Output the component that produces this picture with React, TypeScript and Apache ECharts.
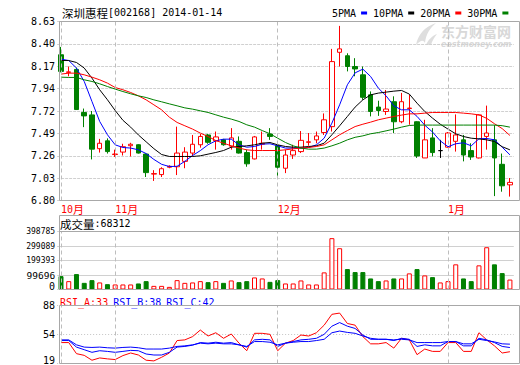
import React, { useEffect, useRef } from 'react';
import * as echarts from 'echarts';

const categories = [
  '2013-10-23','2013-10-24','2013-10-25','2013-10-28','2013-10-29','2013-10-30','2013-10-31',
  '2013-11-01','2013-11-04','2013-11-05','2013-11-06','2013-11-07','2013-11-08','2013-11-11','2013-11-12','2013-11-13','2013-11-14','2013-11-15','2013-11-18','2013-11-19','2013-11-20','2013-11-21','2013-11-22','2013-11-25','2013-11-26','2013-11-27','2013-11-28','2013-11-29',
  '2013-12-02','2013-12-03','2013-12-04','2013-12-05','2013-12-06','2013-12-09','2013-12-10','2013-12-11','2013-12-12','2013-12-13','2013-12-16','2013-12-17','2013-12-18','2013-12-19','2013-12-20','2013-12-23','2013-12-24','2013-12-25','2013-12-26','2013-12-27','2013-12-30','2013-12-31',
  '2014-01-02','2014-01-03','2014-01-06','2014-01-07','2014-01-08','2014-01-09','2014-01-10','2014-01-13','2014-01-14'
];

// [open, close, low, high]
const candles = [
  [8.29, 8.12, 8.11, 8.37], [8.11, 8.115, 8.07, 8.17], [8.14, 7.73, 7.73, 8.16], [7.70, 7.665, 7.55, 7.74],
  [7.675, 7.325, 7.22, 7.715], [7.33, 7.385, 7.29, 7.43], [7.41, 7.30, 7.28, 7.435], [7.27, 7.275, 7.245, 7.32],
  [7.295, 7.35, 7.26, 7.38], [7.36, 7.375, 7.25, 7.39], [7.37, 7.285, 7.28, 7.375], [7.275, 7.085, 7.04, 7.28],
  [7.07, 7.075, 7.00, 7.11], [7.065, 7.125, 7.04, 7.14], [7.14, 7.15, 7.13, 7.16], [7.145, 7.285, 7.06, 7.555],
  [7.20, 7.295, 7.13, 7.345], [7.285, 7.375, 7.25, 7.47], [7.37, 7.455, 7.34, 7.48], [7.47, 7.395, 7.38, 7.48],
  [7.41, 7.45, 7.32, 7.505], [7.42, 7.37, 7.36, 7.43], [7.355, 7.44, 7.32, 7.54], [7.405, 7.285, 7.28, 7.455],
  [7.29, 7.175, 7.145, 7.32], [7.225, 7.45, 7.22, 7.46], [7.375, 7.385, 7.32, 7.505], [7.48, 7.455, 7.42, 7.54],
  [7.36, 7.14, 7.045, 7.37], [7.13, 7.265, 7.08, 7.32], [7.265, 7.31, 7.225, 7.37], [7.30, 7.415, 7.285, 7.51],
  [7.395, 7.40, 7.36, 7.49], [7.42, 7.46, 7.385, 7.505], [7.495, 7.625, 7.47, 7.69], [7.555, 8.22, 7.505, 8.35],
  [8.315, 8.35, 8.17, 8.585], [8.28, 8.17, 8.12, 8.305], [8.17, 8.145, 8.07, 8.255], [8.085, 7.855, 7.83, 8.17],
  [7.88, 7.71, 7.66, 7.915], [7.755, 7.72, 7.665, 7.82], [7.71, 7.735, 7.675, 7.93], [7.81, 7.605, 7.49, 7.865],
  [7.605, 7.81, 7.59, 7.90], [7.74, 7.745, 7.575, 7.88], [7.605, 7.255, 7.235, 7.61], [7.235, 7.42, 7.235, 7.625],
  [7.44, 7.29, 7.25, 7.54], [7.31, 7.31, 7.235, 7.42], [7.345, 7.49, 7.34, 7.50], [7.405, 7.47, 7.30, 7.68],
  [7.42, 7.265, 7.20, 7.47], [7.31, 7.245, 7.215, 7.385], [7.235, 7.675, 7.23, 7.68], [7.455, 7.49, 7.32, 7.77],
  [7.42, 7.235, 6.845, 7.57], [7.17, 6.95, 6.89, 7.28], [6.96, 6.985, 6.84, 7.03]
];

const volumes = [
  92000, 57500, 106000, 45700, 64400, 48500, 36700, 34600, 34600, 34600,
  41500, 57500, 25000, 25000, 18000, 64400, 45700, 48500, 57500, 50500,
  57500, 45700, 62300, 50500, 57500, 83000, 76000, 52600, 64400, 41500,
  41500, 62300, 34600, 34600, 117700, 353000, 283800, 140500, 119800, 119800,
  76000, 57500, 62300, 76000, 76000, 110800, 140500, 96900, 85100, 48500,
  57500, 173000, 76000, 57500, 166000, 290700, 173000, 112800, 68312
];

const ma5 = [
  8.245, 8.231, 8.154, 8.017, 7.812, 7.608, 7.472, 7.369, 7.342, 7.336,
  7.318, 7.28, 7.22, 7.17, 7.147, 7.15, 7.20, 7.26, 7.31, 7.37,
  7.41, 7.427, 7.427, 7.369, 7.345, 7.352, 7.376, 7.38, 7.359, 7.336,
  7.336, 7.336, 7.342, 7.369, 7.437, 7.591, 7.778, 7.983, 8.105, 8.143,
  8.068, 7.949, 7.87, 7.768, 7.727, 7.727, 7.66, 7.57, 7.50, 7.41,
  7.35, 7.38, 7.39, 7.359, 7.431, 7.434, 7.42, 7.345, 7.267
];
const ma10 = [
  8.231, 8.231, 8.211, 8.154, 8.051, 7.932, 7.83, 7.72, 7.62, 7.55,
  7.47, 7.40, 7.33, 7.27, 7.25, 7.25, 7.25, 7.25, 7.257, 7.274,
  7.291, 7.311, 7.345, 7.352, 7.359, 7.369, 7.386, 7.393, 7.369, 7.352,
  7.345, 7.345, 7.352, 7.359, 7.386, 7.472, 7.564, 7.659, 7.755, 7.829,
  7.88, 7.898, 7.908, 7.918, 7.925, 7.888, 7.795, 7.71, 7.642, 7.58,
  7.53, 7.482, 7.454, 7.437, 7.43, 7.42, 7.403, 7.35, 7.318
];
const ma20 = [
  8.092, 8.102, 8.102, 8.085, 8.061, 8.034, 8.0, 7.955, 7.932, 7.904,
  7.87, 7.829, 7.778, 7.727, 7.652, 7.598, 7.564, 7.53, 7.489, 7.454,
  7.413, 7.386, 7.359, 7.336, 7.318, 7.311, 7.311, 7.311, 7.311, 7.318,
  7.328, 7.336, 7.342, 7.352, 7.369, 7.42, 7.472, 7.515, 7.556, 7.58,
  7.601, 7.625, 7.642, 7.659, 7.673, 7.686, 7.686, 7.693, 7.70, 7.70,
  7.70, 7.70, 7.693, 7.686, 7.675, 7.64, 7.585, 7.535, 7.465
];
const ma30 = [
  8.061, 8.058, 8.058, 8.034, 8.017, 7.993, 7.965, 7.939, 7.914, 7.891,
  7.87, 7.853, 7.829, 7.809, 7.788, 7.768, 7.747, 7.734, 7.717, 7.70,
  7.676, 7.652, 7.632, 7.608, 7.574, 7.55, 7.515, 7.482, 7.437, 7.393,
  7.359, 7.336, 7.325, 7.325, 7.336, 7.359, 7.386, 7.42, 7.446, 7.461,
  7.482, 7.495, 7.512, 7.53, 7.55, 7.567, 7.571, 7.571, 7.571, 7.571,
  7.571, 7.571, 7.571, 7.571, 7.571, 7.571, 7.571, 7.565, 7.55
];

const rsiA = [
  43.9, 43.9, 30.7, 28.7, 22.9, 25.6, 24.5, 23.7, 28.4, 31.5,
  29.1, 22.9, 22.1, 26.4, 31.5, 46.3, 47.1, 51, 58.8, 51.7,
  55.6, 49, 54.1, 43.2, 34.2, 54.9, 54.9, 53.7, 34.2, 43.2,
  46.3, 52.9, 51.7, 55.6, 64.6, 77.5, 79, 66.6, 64.6, 51,
  42.4, 42.4, 43.9, 37.3, 49, 47.1, 29.5, 36.2, 33.4, 33.4,
  43.9, 43.9, 33.4, 33.4, 55.6, 47.1, 40, 31.5, 33
];
const rsiB = [
  46.3, 46.3, 38.5, 35.4, 32.3, 34.2, 33.4, 32.3, 33.4, 34.6,
  34.2, 30.3, 29.1, 29.1, 32.3, 38.5, 39.3, 40.8, 43.9, 43.2,
  44.3, 43.2, 43.9, 41.2, 38.5, 47.1, 47.8, 47.1, 39.3, 43.2,
  45.1, 47.1, 47.8, 49, 53.7, 63.4, 67.7, 63.4, 60.7, 52.9,
  47.8, 47.8, 47.8, 46.3, 49, 47.8, 39.3, 41.2, 40, 40,
  45.1, 45.1, 40, 40, 49, 47.1, 43.9, 39.3, 38
];
const rsiC = [
  47.1, 47.1, 41.2, 38.5, 38.1, 38.5, 37.7, 37.3, 38.1, 38.5,
  37.7, 36.2, 36.2, 36.2, 37.3, 39.3, 40, 41.2, 43.2, 42.4,
  43.2, 42.4, 42.4, 41.2, 39.3, 45.1, 45.1, 44.3, 41.2, 43.2,
  44.3, 45.1, 45.1, 46.3, 47.8, 55.6, 57.6, 56, 54.9, 51.7,
  49, 47.8, 47.8, 47.1, 47.8, 47.1, 43.9, 43.9, 43.9, 43.9,
  45.1, 45.1, 42.4, 42.4, 47.8, 46.3, 44.7, 42.4, 42
];

const PRICE_MIN = 6.8;
const PRICE_MAX = 8.63;
const VOL_MAX = 398785;
const RSI_MIN = 19;
const RSI_MAX = 88;
const STOCK_NAME = '深圳惠程';
const STOCK_CODE = '002168';

const MONO = '"DejaVu Sans Mono", "Liberation Mono", monospace';
const CJK = '"Noto Sans CJK SC", sans-serif';

const RED = '#ff0000';
const GREEN = '#008000';
const BLUE = '#0000ff';

export default function App() {
  const ref = useRef<HTMLDivElement>(null);

  useEffect(() => {
    if (!ref.current) return;
    try {
      echarts.graphic.registerShape(
        'emLogo',
        echarts.graphic.extendPath(
          'M2 23 C4 13 10 5 22 1 C16 6 12 12 11 21 C9 17 6 19 2 23 Z M12 23 C14 18 18 14 23 12 C20 16 18 19 17 23 Z',
          {}
        )
      );
    } catch (e) {}

    const chart = echarts.init(ref.current, undefined, { renderer: 'svg', width: 520, height: 365 });

    const GL = 57.13;
    const GW = 456.66;
    const n = categories.length;
    const monthStarts: number[] = [];
    for (let i = 0; i < n; i++) {
      if (i === 0 || categories[i].slice(5, 7) !== categories[i - 1].slice(5, 7)) monthStarts.push(i);
    }

    const priceRange = PRICE_MAX - PRICE_MIN;
    const candleData = candles.map(([o, c, l, h]) => {
      const value = [o - PRICE_MIN, c - PRICE_MIN, l - PRICE_MIN, h - PRICE_MIN];
      if (o === c) {
        return {
          value,
          itemStyle: { color: '#000', color0: '#000', borderColor: '#000', borderColor0: '#000', borderColorDoji: '#000' }
        };
      }
      return value;
    });
    const volData = volumes.map((v, i) => {
      const [o, c] = candles[i];
      const up = c >= o;
      return {
        value: v,
        itemStyle: up
          ? { color: '#ffffff', borderColor: RED, borderWidth: 1 }
          : { color: GREEN, borderColor: GREEN, borderWidth: 1 }
      };
    });

    const maLine = (name: string, data: number[], color: string) => ({
      name,
      type: 'line',
      xAxisIndex: 0,
      yAxisIndex: 0,
      data: data.map((v) => v - PRICE_MIN),
      showSymbol: false,
      symbol: 'none',
      color,
      lineStyle: { width: 1, color },
      silent: true,
      z: 3,
      emphasis: { disabled: true }
    });
    const rsiLine = (name: string, data: number[], color: string) => ({
      name,
      type: 'line',
      xAxisIndex: 2,
      yAxisIndex: 2,
      data: data.map((v) => v - RSI_MIN),
      showSymbol: false,
      symbol: 'none',
      color,
      lineStyle: { width: 1, color },
      silent: true,
      z: 3,
      emphasis: { disabled: true }
    });
    const monthMarker = (k: number) => ({
      type: 'line',
      xAxisIndex: k,
      yAxisIndex: k,
      data: [],
      z: 1,
      silent: true,
      markLine: {
        silent: true,
        animation: false,
        symbol: ['none', 'none'],
        label: { show: false },
        emphasis: { disabled: true },
        lineStyle: { color: '#bdbdbd', type: [4, 3], width: 1 },
        data: monthStarts.map((i) => ({ xAxis: categories[i] }))
      }
    });

    const hiddenX = (k: number) => ({
      type: 'category',
      gridIndex: k,
      data: categories,
      boundaryGap: true,
      show: false
    });

    const txt = (family: string, size: number, color: string) => ({
      fontFamily: family,
      fontSize: size,
      color,
      fontWeight: 'normal'
    });

    const last = n - 1;
    const option: any = {
      animation: false,
      backgroundColor: '#ffffff',
      title: [
        {
          text: `{c|${STOCK_NAME}}{a|[${STOCK_CODE}] ${categories[last]}}`,
          left: 62,
          top: 7,
          padding: 0,
          textStyle: {
            fontWeight: 'normal',
            rich: { c: txt(CJK, 11.5, '#000'), a: txt(MONO, 10, '#000') }
          }
        },
        {
          text: `{c|成交量}{a|:${volumes[last]}}`,
          left: 60,
          top: 218,
          padding: 0,
          textStyle: {
            fontWeight: 'normal',
            rich: { c: txt(CJK, 11.5, '#000'), a: txt(MONO, 10, '#000') }
          }
        },
        {
          text: `{r|RSI_A:${Math.round(rsiA[last])}} {b|RSI_B:${Math.round(rsiB[last])}} {b|RSI_C:${Math.round(rsiC[last])}}`,
          left: 60,
          top: 293,
          padding: 0,
          textStyle: {
            fontWeight: 'normal',
            rich: { r: txt(MONO, 10, RED), b: txt(MONO, 10, BLUE) }
          }
        }
      ],
      legend: {
        data: ['5PMA', '10PMA', '20PMA', '30PMA'],
        left: 332,
        top: 8,
        padding: 0,
        itemGap: 6,
        itemWidth: 6,
        itemHeight: 3,
        icon: 'rect',
        align: 'right',
        selectedMode: false,
        textStyle: { fontFamily: MONO, fontSize: 10, color: '#000' }
      },
      grid: [
        { left: GL, width: GW, top: 21.5, height: 179, containLabel: false, outerBoundsMode: 'none' },
        { left: GL, width: GW, top: 231.5, height: 58, containLabel: false, outerBoundsMode: 'none' },
        { left: GL, width: GW, top: 305.5, height: 58, containLabel: false, outerBoundsMode: 'none' }
      ],
      xAxis: [
        {
          type: 'category',
          gridIndex: 0,
          data: categories,
          boundaryGap: true,
          axisLine: { show: false },
          axisTick: { show: false },
          splitLine: { show: false },
          axisLabel: {
            show: true,
            interval: (i: number) => monthStarts.includes(i),
            formatter: (v: string) => `{a|${Number(v.slice(5, 7))}}{c|月}`,
            align: 'left',
            margin: 3,
            rich: { a: txt(MONO, 10, RED), c: txt(CJK, 11, RED) }
          }
        },
        hiddenX(1),
        hiddenX(2)
      ],
      yAxis: [
        {
          type: 'value',
          gridIndex: 0,
          min: 0,
          max: priceRange,
          interval: priceRange / 8,
          axisLine: { show: false },
          axisTick: { show: false },
          axisLabel: {
            margin: 2,
            fontFamily: MONO,
            fontSize: 10,
            color: '#000',
            formatter: (v: number) => (Math.round((v + PRICE_MIN) * 100 + 1e-6) / 100).toFixed(2)
          },
          splitLine: { show: true, lineStyle: { color: '#d0d0d0', width: 1, type: [3, 1] } }
        },
        {
          type: 'value',
          gridIndex: 1,
          min: 0,
          max: VOL_MAX,
          interval: VOL_MAX / 4,
          axisLine: { show: false },
          axisTick: { show: false },
          axisLabel: {
            margin: 2,
            fontFamily: MONO,
            fontSize: 10,
            color: '#000',
            formatter: (v: number) => {
              const s = String(Math.round(v));
              if (v === 0) return '{z|0}';
              if (s.length >= 6) return `{s|${s}}`;
              return `{m|${s}}`;
            },
            rich: {
              s: txt(MONO, 8, '#000'),
              m: txt(MONO, 9.5, '#000'),
              z: { ...txt(MONO, 10, '#000'), padding: [0, 0, 6, 0] }
            }
          },
          splitLine: { show: true, lineStyle: { color: '#d0d0d0', width: 1 } }
        },
        {
          type: 'value',
          gridIndex: 2,
          min: 0,
          max: RSI_MAX - RSI_MIN,
          interval: (RSI_MAX - RSI_MIN) / 2,
          axisLine: { show: false },
          axisTick: { show: false },
          axisLabel: {
            margin: 2,
            fontFamily: MONO,
            fontSize: 10,
            color: '#000',
            formatter: (v: number) => {
              const s = String(Math.round(v + RSI_MIN));
              return v === 0 ? `{z|${s}}` : `{n|${s}}`;
            },
            rich: {
              n: txt(MONO, 10, '#000'),
              z: { ...txt(MONO, 10, '#000'), padding: [0, 0, 6, 0] }
            }
          },
          splitLine: { show: true, lineStyle: { color: '#c4c4c4', width: 1, type: [1, 2] } }
        }
      ],
      series: [
        monthMarker(0),
        monthMarker(1),
        monthMarker(2),
        {
          name: 'K',
          type: 'candlestick',
          xAxisIndex: 0,
          yAxisIndex: 0,
          barWidth: 5,
          silent: true,
          z: 2,
          itemStyle: {
            color: '#ffffff',
            color0: GREEN,
            borderColor: RED,
            borderColor0: GREEN,
            borderColorDoji: RED,
            borderWidth: 1
          },
          data: candleData
        },
        maLine('5PMA', ma5, BLUE),
        maLine('10PMA', ma10, '#000000'),
        maLine('20PMA', ma20, RED),
        maLine('30PMA', ma30, GREEN),
        {
          name: 'VOL',
          type: 'bar',
          xAxisIndex: 1,
          yAxisIndex: 1,
          barWidth: 5,
          silent: true,
          z: 2,
          data: volData
        },
        rsiLine('RSI_A', rsiA, RED),
        rsiLine('RSI_B', rsiB, BLUE),
        rsiLine('RSI_C', rsiC, BLUE)
      ],
      graphic: [
        {
          type: 'emLogo',
          x: 414,
          y: 22,
          scaleX: 1,
          scaleY: 1,
          silent: true,
          z: 0,
          style: { fill: '#dedede' }
        },
        {
          type: 'text',
          x: 441,
          y: 24,
          silent: true,
          z: 0,
          style: {
            text: '东方财富网',
            font: 'bold 14px "Noto Sans CJK SC"',
            lineHeight: 14,
            fill: '#d8d8d8',
            verticalAlign: 'top'
          }
        },
        {
          type: 'text',
          x: 441,
          y: 40,
          silent: true,
          z: 0,
          style: {
            text: 'eastmoney.com',
            font: 'italic bold 8px "DejaVu Sans"',
            lineHeight: 8,
            fill: '#d8d8d8',
            verticalAlign: 'top'
          }
        },
        {
          type: 'rect',
          silent: true,
          z: 100,
          shape: { x: 59.5, y: 21.5, width: 460, height: 179 },
          style: { fill: 'none', stroke: '#a8a8a8', lineWidth: 1 }
        },
        {
          type: 'rect',
          silent: true,
          z: 100,
          shape: { x: 59.5, y: 215.5, width: 460, height: 74 },
          style: { fill: 'none', stroke: '#a8a8a8', lineWidth: 1 }
        },
        {
          type: 'line',
          silent: true,
          z: 100,
          shape: { x1: 59.5, y1: 231.5, x2: 519.5, y2: 231.5 },
          style: { stroke: '#a8a8a8', lineWidth: 1 }
        },
        {
          type: 'rect',
          silent: true,
          z: 100,
          shape: { x: 59.5, y: 305.5, width: 460, height: 58 },
          style: { fill: 'none', stroke: '#a8a8a8', lineWidth: 1 }
        }
      ]
    };

    chart.setOption(option);
    return () => chart.dispose();
  }, []);

  return (
    <div
      ref={ref}
      style={{ position: 'fixed', left: 0, top: 0, width: 520, height: 365, background: '#fff' }}
    />
  );
}
